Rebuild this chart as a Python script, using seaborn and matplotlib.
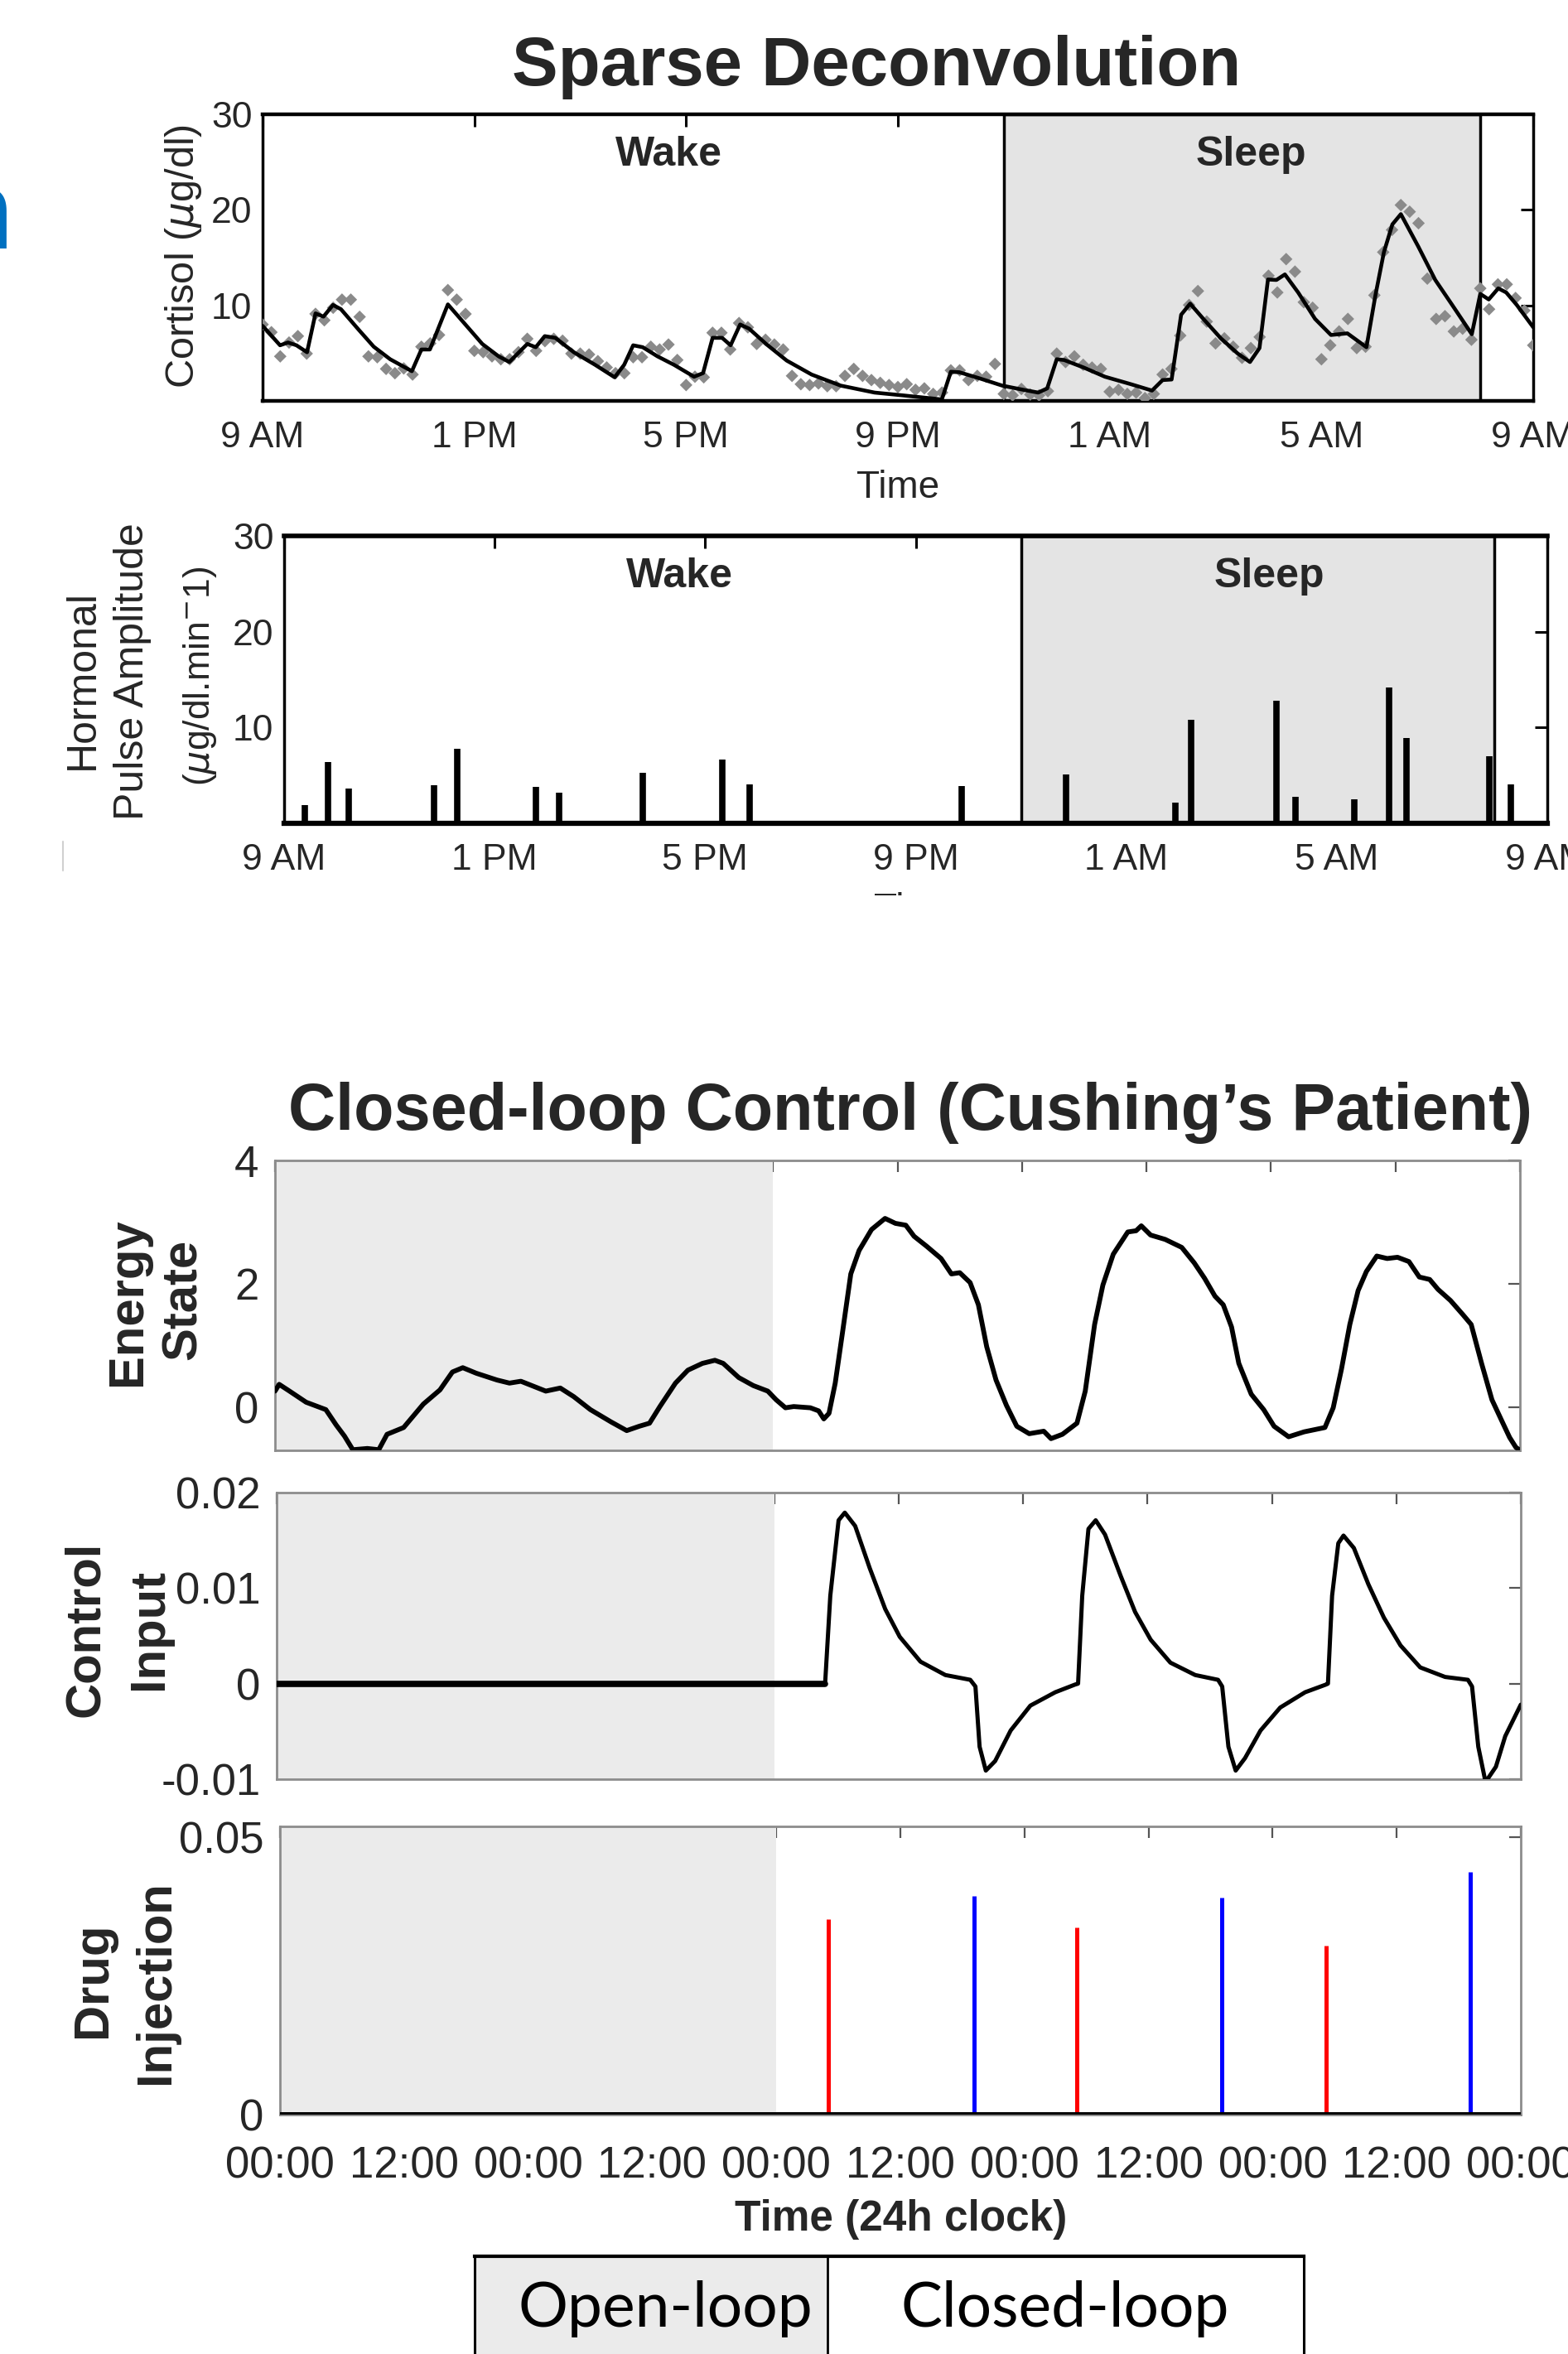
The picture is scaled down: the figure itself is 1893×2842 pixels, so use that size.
import numpy as np
import matplotlib
matplotlib.use("Agg")
import matplotlib.pyplot as plt
import seaborn as sns
from matplotlib import font_manager
from matplotlib.patches import Rectangle
from matplotlib.lines import Line2D

# ---- dados ----
# painel 1: cortisol a cada 10 min (horas desde as 9 AM)
cortisol_samples = [
    8.0, 7.19, 4.66, 6.11, 6.78, 4.95, 9.11, 8.44, 9.75, 10.6, 10.6, 8.8,
    4.66, 4.57, 3.35, 2.9, 3.4, 2.76, 5.67, 6.02, 6.9, 11.6, 10.6, 9.1,
    5.24, 5.1, 4.66, 4.36, 4.36, 5.1, 6.5, 5.24, 6.26, 6.5, 6.3, 4.95,
    4.95, 4.86, 4.16, 3.5, 2.9, 2.9, 4.57, 4.57, 5.67, 5.38, 5.9, 4.28,
    1.66, 2.53, 2.47, 7.13, 7.13, 5.38, 8.15, 7.7, 5.96, 6.4, 5.9, 5.38,
    2.62, 1.75, 1.66, 1.83, 1.54, 1.54, 2.62, 3.35, 2.62, 2.18, 1.89, 1.66,
    1.45, 1.75, 1.16, 1.31, 0.73, 0.87, 3.2, 3.2, 2.18, 2.62, 2.53, 3.87,
    0.73, 0.58, 1.25, 0.67, 0.58, 1.02, 4.95, 4.07, 4.66, 3.78, 3.49, 3.35,
    0.96, 1.16, 0.73, 0.87, 0.29, 0.73, 2.76, 3.35, 6.84, 10.04, 11.5, 8.3,
    6.02, 6.55, 5.67, 4.51, 5.53, 6.69, 13.1, 11.35, 14.84, 13.53, 10.33, 9.75,
    4.36, 5.82, 7.27, 8.58, 5.53, 5.67, 11.06, 15.57, 17.9, 20.5, 19.8, 18.6,
    12.8, 8.58, 8.87, 7.27, 7.56, 6.4, 11.78, 9.6, 12.2, 12.2, 10.77, 9.46, 5.82,
]
sample_hours = np.arange(len(cortisol_samples)) / 6

fit_hours = [0.0, 0.33, 0.48, 0.64, 0.84, 1.0, 1.15, 1.33, 1.48, 1.82, 2.1, 2.41, 2.82,
             3.0, 3.16, 3.5, 3.83, 4.15, 4.46, 4.66, 5.0, 5.16, 5.33, 5.53, 5.88, 6.28,
             6.65, 6.83, 7.0, 7.18, 7.46, 7.77, 8.15, 8.32, 8.5, 8.68, 8.84, 9.02, 9.19,
             9.51, 9.9, 10.37, 10.92, 11.56, 12.09, 12.83, 13.0, 13.16, 13.56, 13.97,
             14.37, 14.65, 14.82, 15.0, 15.14, 15.51, 15.91, 16.4, 16.8, 17.0, 17.17,
             17.35, 17.52, 17.77, 18.1, 18.42, 18.65, 18.83, 18.99, 19.15, 19.31, 19.56,
             19.88, 20.18, 20.49, 20.85, 21.02, 21.18, 21.34, 21.5, 21.83, 22.15, 22.47,
             22.84, 23.0, 23.16, 23.34, 23.49, 23.69, 24.0]
fit_values = [7.86, 5.82, 6.11, 5.82, 5.09, 9.16, 8.82, 10.04, 9.6, 7.42, 5.67, 4.36, 3.11,
              5.38, 5.38, 10.1, 8.0, 5.96, 4.66, 4.07, 5.96, 5.62, 6.78, 6.6, 5.09, 3.78,
              2.47, 3.78, 5.82, 5.62, 4.66, 3.78, 2.53, 2.91, 6.6, 6.6, 5.82, 8.0, 7.56,
              5.96, 4.22, 2.76, 1.6, 0.87, 0.58, 0.15, 3.05, 3.0, 2.33, 1.6,
              1.16, 0.87, 1.31, 4.36, 4.28, 3.49, 2.53, 1.75, 1.08, 2.18, 2.24,
              9.02, 10.18, 8.58, 6.55, 4.95, 4.07, 5.53, 12.71, 12.66, 13.24, 11.35,
              8.58, 6.9, 7.07, 5.62, 11.06, 15.57, 18.48, 19.55, 16.15, 12.66, 10.04,
              6.98, 11.2, 10.62, 11.78, 11.35, 10.04, 7.71]

# painel 2: pulsos hormonais
pulse_hours = [0.39, 0.83, 1.22, 2.85, 3.29, 4.79, 5.23, 6.81, 8.33, 8.85, 12.87,
               14.86, 16.93, 17.24, 18.86, 19.21, 20.33, 20.99, 21.32, 22.9, 23.3]
pulse_amps = [1.9, 6.4, 3.6, 4.0, 7.8, 3.8, 3.2, 5.3, 6.7, 4.1, 3.9,
              5.1, 2.2, 10.8, 12.8, 2.8, 2.5, 14.2, 8.9, 7.0, 4.1]

clock_ticks = [0, 4, 8, 12, 16, 20, 24]
clock_labels = ["9 AM", "1 PM", "5 PM", "9 PM", "1 AM", "5 AM", "9 AM"]
sleep_start, sleep_end = 14, 23

# painel 3: estado de energia (horas desde o início)
energy_hours = [0, 0.4, 1.4, 3.0, 4.9, 5.9, 6.7, 7.5, 8.9, 10.0,
                10.8, 12.4, 14.3, 15.9, 17.1, 18.1, 19.4, 21.4, 22.6, 23.7,
                26.1, 27.5, 28.8, 30.4, 32.4, 33.9, 35.1, 36.1, 37.1, 38.6,
                39.8, 41.2, 42.4, 43.2, 44.7, 46.1, 47.5, 48.3, 49.2, 50.0,
                51.6, 52.4, 52.9, 53.4, 54.0, 54.7, 55.5, 56.3, 57.5, 58.8,
                59.8, 60.8, 61.6, 62.8, 64.2, 65.2, 66.0, 67.0, 67.8, 68.6,
                69.5, 70.5, 71.5, 72.7, 74.1, 74.8, 75.9, 77.3, 78.1, 79.0,
                79.8, 80.8, 82.2, 83.0, 83.5, 84.4, 85.8, 87.4, 88.6, 89.6,
                90.6, 91.4, 92.2, 92.9, 94.1, 95.3, 96.3, 97.7, 99.2, 101.2,
                102.0, 102.8, 103.6, 104.4, 105.2, 106.2, 107.2, 108.2, 109.3, 110.3,
                111.3, 112.1, 113.3, 114.5, 115.3, 116.3, 117.3, 118.3, 119.0, 119.6, 120]
energy_values = [0.26, 0.37, 0.26, 0.08, -0.04, -0.29, -0.47, -0.69, -0.67, -0.69,
                 -0.44, -0.33, 0.05, 0.28, 0.57, 0.64, 0.55, 0.44, 0.39, 0.42,
                 0.26, 0.31, 0.17, -0.04, -0.24, -0.38, -0.31, -0.26, 0.01, 0.39,
                 0.6, 0.71, 0.76, 0.71, 0.48, 0.35, 0.26, 0.12, -0.01, 0.01,
                 -0.01, -0.06, -0.19, -0.1, 0.39, 1.21, 2.16, 2.54, 2.88, 3.06,
                 2.98, 2.95, 2.77, 2.61, 2.41, 2.16, 2.18, 2.02, 1.66, 0.98,
                 0.44, 0.03, -0.31, -0.43, -0.39, -0.51, -0.44, -0.26, 0.26, 1.34,
                 1.98, 2.48, 2.84, 2.86, 2.94, 2.79, 2.72, 2.59, 2.34, 2.09,
                 1.8, 1.66, 1.3, 0.71, 0.21, -0.04, -0.31, -0.48, -0.4, -0.33,
                 -0.01, 0.62, 1.34, 1.89, 2.2, 2.45, 2.41, 2.43, 2.36, 2.11,
                 2.07, 1.91, 1.73, 1.5, 1.34, 0.71, 0.12, -0.24, -0.49, -0.65, -0.7]

# painel 4: entrada de controle
control_hours = [0, 52.9, 53.4, 54.2, 54.8, 55.8, 57.2, 58.7, 60.1, 62.1, 64.5, 66.9,
                 67.4, 67.8, 68.4, 69.3, 70.8, 72.7, 75.1, 77.0,
                 77.3, 77.7, 78.3, 79.0, 79.9, 81.4, 82.8, 84.3, 86.2, 88.6, 90.8,
                 91.2, 91.8, 92.5, 93.4, 94.9, 96.8, 99.2, 101.2,
                 101.4, 101.8, 102.4, 102.9, 103.9, 105.3, 106.8, 108.4, 110.3, 112.7, 114.9,
                 115.3, 115.9, 116.6, 117.6, 118.5, 120]
control_values = [0, 0, 0.0092, 0.0171, 0.0179, 0.0165, 0.0121, 0.0078, 0.0049, 0.0023, 0.0009, 0.0004,
                  -0.0003, -0.0066, -0.0091, -0.0081, -0.0049, -0.0023, -0.0009, -0.0001,
                  0, 0.0092, 0.0162, 0.0171, 0.0156, 0.0113, 0.0075, 0.0046, 0.0022, 0.0009, 0.0004,
                  -0.0003, -0.0066, -0.0091, -0.0078, -0.0049, -0.0025, -0.0009, -0.0001,
                  0, 0.0092, 0.0147, 0.0155, 0.0142, 0.0104, 0.0069, 0.004, 0.0017, 0.0007, 0.0004,
                  -0.0003, -0.0066, -0.0103, -0.0087, -0.0055, -0.0022]

# painel 5: injeções
red_hours = [53.0, 77.1, 101.2]
red_doses = [0.0352, 0.0337, 0.0305]
blue_hours = [67.1, 91.1, 115.1]
blue_doses = [0.0395, 0.0392, 0.0438]

day_ticks = list(range(0, 121, 12))
day_labels = ["00:00", "12:00"] * 5 + ["00:00"]
open_loop_end = 48

# ---- figura ----
sns.set_theme(style="white")
installed = {f.name for f in font_manager.fontManager.ttflist}
leg_font = "Lato" if "Lato" in installed else "DejaVu Sans"
plt.rcParams['font.family'] = ['Liberation Sans', 'DejaVu Sans']
plt.rcParams['mathtext.fontset'] = 'dejavusans'

W, H = 1893, 2842
fig = plt.figure(figsize=(W / 100, H / 100), dpi=100)
fig.patch.set_facecolor('white')


def rect(x0, y0, x1, y1):
    return [x0 / W, 1 - y1 / H, (x1 - x0) / W, (y1 - y0) / H]


def ftext(x, y, s, **kw):
    return fig.text(x / W, 1 - y / H, s, **kw)


txt = '#262626'

# --- painel 1 e 2: cortisol e pulsos ---
ax1 = fig.add_axes(rect(317, 138, 1851, 484))
ax2 = fig.add_axes(rect(343, 647, 1868, 994))
for ax in (ax1, ax2):
    ax.set_facecolor('white')
    ax.set_axisbelow(True)
    ax.axvspan(sleep_start, sleep_end, facecolor='#e4e4e4', edgecolor='black', lw=2.5, zorder=1)
    ax.set_xlim(0, 24)
    ax.set_ylim(0, 30)
    ax.set_xticks(clock_ticks)
    ax.set_xticklabels(clock_labels)
    ax.set_yticks([10, 20, 30])
    ax.tick_params(direction='in', top=True, right=True, length=11, width=2.2,
                   labelsize=32, labelcolor=txt, color='black')
    ax.tick_params(axis='x', pad=17)
    ax.tick_params(axis='y', pad=9)
    for s in ax.spines.values():
        s.set_linewidth(2.5)
        s.set_color('black')
    ax.grid(False)

ax1.spines['top'].set_linewidth(3.2)
ax1.spines['bottom'].set_linewidth(3.2)
sns.scatterplot(x=sample_hours, y=cortisol_samples, marker='D', s=60, color='#8a8a8a',
                edgecolor='none', ax=ax1, zorder=3)
sns.lineplot(x=fit_hours, y=fit_values, estimator=None, sort=False, color='black',
             linewidth=3.3, ax=ax1, zorder=4)
ax1.set_xlabel('')
ax1.set_ylabel('')
ax1.text(7.67, 25.75, 'Wake', ha='center', va='center', fontsize=36, fontweight='bold', zorder=5)
ax1.text(18.67, 25.75, 'Sleep', ha='center', va='center', fontsize=36, fontweight='bold', zorder=5)

ax2.vlines(pulse_hours, 0, pulse_amps, color='black', lw=5.5, zorder=3)
ax2.spines['bottom'].set_linewidth(4.5)
ax2.spines['top'].set_linewidth(4)
ax2.text(7.52, 25.8, 'Wake', ha='center', va='center', fontsize=36, fontweight='bold', zorder=5)
ax2.text(18.71, 25.8, 'Sleep', ha='center', va='center', fontsize=36, fontweight='bold', zorder=5)

ftext(1058, 103, 'Sparse Deconvolution', ha='center', va='baseline', fontsize=60, fontweight='bold')
ftext(221, 310, r'Cortisol ($\mu$g/dl)', rotation=90, ha='center', va='center', fontsize=35, color=txt)
ftext(1084, 589, 'Time', ha='center', va='center', fontsize=33, color=txt)
ftext(100, 820, 'Hormonal', rotation=90, ha='center', va='center', fontsize=36, color=txt)
ftext(160, 811, 'Pulse Amplitude', rotation=90, ha='center', va='center', fontsize=36, color=txt)
ftext(241, 816, r'($\mu$g/dl.min$^{-}$1)', rotation=90, ha='center', va='center', fontsize=32, color=txt)
ftext(1105, 1111, 'Time', ha='center', va='baseline', fontsize=33, color=txt)
fig.add_artist(Rectangle((0, 1 - 1290 / H), 1, (1290 - 1081) / H, transform=fig.transFigure,
                         facecolor='white', edgecolor='none', zorder=10))
fig.add_artist(Line2D([76 / W, 76 / W], [1 - 1016 / H, 1 - 1051 / H], transform=fig.transFigure,
                      color='#d0d0d0', lw=1.5))
ftext(16, 300, 'n', ha='right', va='baseline', fontsize=97, fontweight='bold', color='#0070c0')

# --- painéis 3-5 ---
ax3 = fig.add_axes(rect(332, 1401, 1835, 1751))
ax4 = fig.add_axes(rect(334, 1802, 1836, 2148))
ax5 = fig.add_axes(rect(338, 2205, 1836, 2553))
for ax in (ax3, ax4, ax5):
    ax.set_facecolor('white')
    ax.set_axisbelow(True)
    ax.axvspan(0, open_loop_end, facecolor='#ebebeb', lw=0, zorder=0.8)
    ax.set_xlim(0, 120)
    ax.set_xticks(day_ticks)
    ax.tick_params(direction='in', top=True, right=True, length=10, width=1.6,
                   labelsize=38, labelcolor=txt, color='#555555')
    ax.tick_params(axis='y', pad=14)
    for s in ax.spines.values():
        s.set_linewidth(2)
        s.set_color('#8c8c8c')
    ax.grid(False)

sns.lineplot(x=energy_hours, y=energy_values, estimator=None, sort=False, color='black',
             linewidth=4.2, ax=ax3, zorder=3)
ax3.set_ylim(-0.7, 4)
ax3.set_yticks([0, 2, 4])
ax3.set_yticklabels(['0', '2', '4'])
ax3.set_xticklabels([])

sns.lineplot(x=control_hours, y=control_values, estimator=None, sort=False, color='black',
             linewidth=3.6, ax=ax4, zorder=3)
ax4.plot(control_hours[:2], control_values[:2], color='black', lw=5.5, zorder=3)
ax4.set_ylim(-0.01, 0.02)
ax4.set_yticks([-0.01, 0, 0.01, 0.02])
ax4.set_yticklabels(['-0.01', '0', '0.01', '0.02'])
ax4.set_xticklabels([])

ax5.vlines(red_hours, 0, red_doses, color='#ff0000', lw=3.6, zorder=3)
ax5.vlines(blue_hours, 0, blue_doses, color='#0000ff', lw=3.6, zorder=3)
ax5.axhline(0, color='black', lw=5, zorder=4)
ax5.set_ylim(0, 0.052)
ax5.set_yticks([0, 0.05])
ax5.set_yticklabels(['0', '0.05'])
ax5.set_xticklabels(day_labels)
ax5.tick_params(axis='x', pad=27)

for ax in (ax3, ax4, ax5):
    ax.set_xlabel('')
    ax.set_ylabel('')

ftext(1099, 1364, 'Closed-loop Control (Cushing’s Patient)', ha='center', va='baseline',
      fontsize=57, fontweight='bold')
ftext(154, 1572, 'Energy', rotation=90, ha='center', va='center', fontsize=43, fontweight='bold', color=txt)
ftext(221, 1569, 'State', rotation=90, ha='center', va='center', fontsize=43, fontweight='bold', color=txt)
ftext(103, 1967, 'Control', rotation=90, ha='center', va='center', fontsize=43, fontweight='bold', color=txt)
ftext(180, 1967, 'Input', rotation=90, ha='center', va='center', fontsize=43, fontweight='bold', color=txt)
ftext(112, 2390, 'Drug', rotation=90, ha='center', va='center', fontsize=43, fontweight='bold', color=txt)
ftext(189, 2393, 'Injection', rotation=90, ha='center', va='center', fontsize=43, fontweight='bold', color=txt)
ftext(1088, 2680, 'Time (24h clock)', ha='center', va='center', fontsize=37, fontweight='bold', color=txt)

# --- caixa de legenda ---
axl = fig.add_axes(rect(573, 2724, 1574, 2900))
axl.set_xlim(0, 1)
axl.set_ylim(0, 1)
split = (999 - 573) / (1574 - 573)
axl.axvspan(0, split, facecolor='#ebebeb', lw=0)
axl.axvline(split, color='black', lw=2)
axl.set_xticks([])
axl.set_yticks([])
for s in axl.spines.values():
    s.set_linewidth(2.2)
    s.set_color('black')
axl.spines['top'].set_linewidth(3)
axl.text((803 - 573) / 1001, 0.64, 'Open-loop', ha='center', va='center', fontsize=54,
         family=[leg_font, 'DejaVu Sans'], color='black')
axl.text((1286 - 573) / 1001, 0.64, 'Closed-loop', ha='center', va='center', fontsize=54,
         family=[leg_font, 'DejaVu Sans'], color='black')

fig.savefig('out.png', dpi=100)
